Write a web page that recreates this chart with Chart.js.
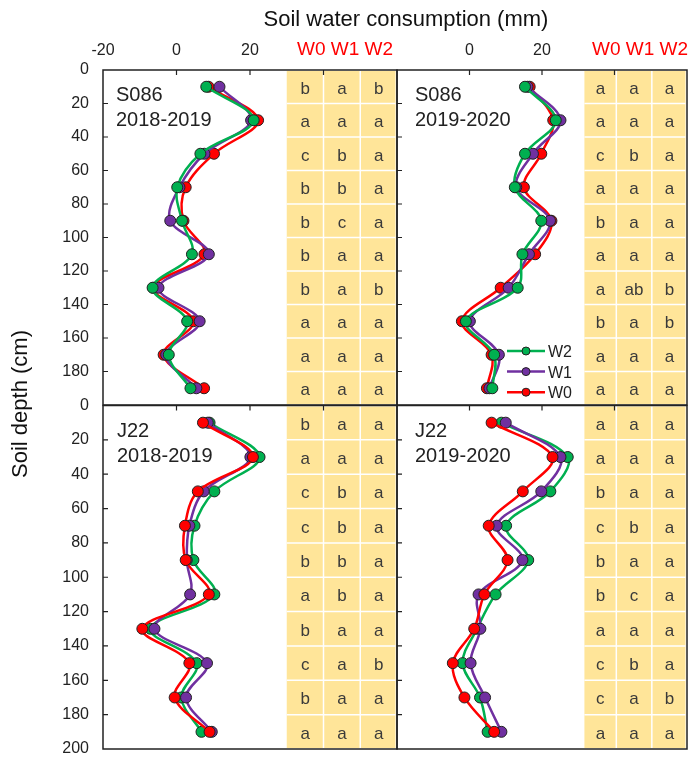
<!DOCTYPE html>
<html>
<head>
<meta charset="utf-8">
<script src="https://cdn.jsdelivr.net/npm/chart.js@4.4.1/dist/chart.umd.min.js"></script>
<style>
  body { margin: 0; background: #fff; }
  #wrap { position: relative; width: 690px; height: 757px; font-family: 'Liberation Sans', Arial, sans-serif; }
  #wrap canvas { position: absolute; left: 0; top: 0; }
  .txt { position: absolute; white-space: nowrap; color: #111; line-height: 1; }
</style>
</head>
<body>
<div id="wrap">
  <canvas id="ul" width="690" height="757"></canvas>
  <canvas id="ur" width="690" height="757"></canvas>
  <canvas id="ll" width="690" height="757"></canvas>
  <canvas id="lr" width="690" height="757"></canvas>
  <div class="txt" style="left:206px;top:7.5px;width:400px;text-align:center;font-size:22px;">Soil water consumption (mm)</div>
  <div class="txt" style="left:245px;top:39px;width:200px;text-align:center;font-size:19px;color:#ff0000;">W0 W1 W2</div>
  <div class="txt" style="left:540px;top:39px;width:200px;text-align:center;font-size:19px;color:#ff0000;">W0 W1 W2</div>
  <div class="txt" style="left:-80px;top:393px;width:200px;height:22px;text-align:center;font-size:22px;transform:rotate(-90deg);">Soil depth (cm)</div>
</div>
<script>
// depth of each sampling layer (cm)
const depths = [10, 30, 50, 70, 90, 110, 130, 150, 170, 190];

// S086 2018-2019
const s086a_W0 = [8.7, 22.2, 10.2, 2.5, 1.9, 7.6, -6.3, 4.6, -3.5, 7.5];
const s086a_W1 = [11.7, 20.3, 7.6, 0.8, -1.7, 8.8, -4.9, 6.3, -2.8, 5.4];
const s086a_W2 = [8.1, 21.0, 6.5, 0.2, 1.5, 4.2, -6.5, 2.9, -2.1, 3.8];
// S086 2019-2020
const s086b_W0 = [16.6, 23.1, 19.8, 15.0, 22.6, 18.1, 8.6, -2.1, 6.1, 4.8];
const s086b_W1 = [16.0, 25.1, 17.5, 12.9, 22.2, 16.4, 10.8, 0.1, 8.1, 5.5];
const s086b_W2 = [15.3, 23.8, 15.3, 12.5, 19.8, 14.6, 13.3, -1.0, 6.8, 6.3];
// J22 2018-2019
const j22a_W0 = [7.2, 20.8, 5.8, 2.3, 2.5, 8.8, -9.3, 3.5, -0.5, 9.0];
const j22a_W1 = [8.5, 20.1, 7.4, 3.5, 2.8, 3.7, -6.0, 8.3, 2.6, 9.6];
const j22a_W2 = [9.0, 22.6, 10.3, 4.9, 4.6, 10.3, -7.1, 5.5, 1.3, 6.8];
// J22 2019-2020
const j22b_W0 = [6.1, 22.9, 14.7, 5.3, 10.5, 4.1, 1.3, -4.6, -1.4, 6.8];
const j22b_W1 = [10.0, 25.1, 19.8, 7.5, 14.6, 2.5, 3.0, 0.3, 4.3, 8.8];
const j22b_W2 = [8.8, 27.1, 22.3, 10.1, 16.2, 7.2, 2.1, -1.9, 2.9, 5.0];

// significance letters per layer: W0 W1 W2
const s086a_letters = ['b a b', 'a a a', 'c b a', 'b b a', 'b c a', 'b a a', 'b a b', 'a a a', 'a a a', 'a a a'];
const s086b_letters = ['a a a', 'a a a', 'c b a', 'a a a', 'b a a', 'a a a', 'a ab b', 'b a b', 'a a a', 'a a a'];
const j22a_letters = ['b a a', 'a a a', 'c b a', 'c b a', 'b b a', 'a b a', 'b a a', 'c a b', 'b a a', 'a a a'];
const j22b_letters = ['a a a', 'a a a', 'b a a', 'c b a', 'b a a', 'b c a', 'a a a', 'c b a', 'c a b', 'a a a'];

// tick labels that are shown
const xTickLabelsLeft = [-20, 0, 20];
const xTickLabelsRight = [0, 20];
const yTickLabelsTop = [0, 20, 40, 60, 80, 100, 120, 140, 160, 180];
const yTickLabelsBottom = [0, 20, 40, 60, 80, 100, 120, 140, 160, 180, 200];

const colors = { W0: '#ff0000', W1: '#7030a0', W2: '#00b050' };
const FONT = "'Liberation Sans', Arial, sans-serif";

const panelPlugin = {
    id: 'panel',
    beforeDatasetsDraw(chart, args, opts) {
        const { ctx, chartArea: a, scales: { x, y } } = chart;
        const edges = opts.tableEdges.map(v => x.getPixelForValue(v));
        ctx.save();
        ctx.fillStyle = '#ffe599';
        ctx.fillRect(edges[0], a.top + 1, a.right - 1.5 - edges[0], a.bottom - a.top - 2);
        ctx.strokeStyle = '#ffffff';
        ctx.lineWidth = 1.5;
        ctx.beginPath();
        for (let i = 1; i < edges.length - 1; i++) {
            ctx.moveTo(edges[i], a.top);
            ctx.lineTo(edges[i], a.bottom);
        }
        y.ticks.forEach(t => {
            if (t.value > 0 && t.value < 200) {
                const py = y.getPixelForValue(t.value);
                ctx.moveTo(edges[0], py);
                ctx.lineTo(a.right - 1.5, py);
            }
        });
        ctx.stroke();
        ctx.fillStyle = '#3a3a3a';
        ctx.font = '17px ' + FONT;
        ctx.textAlign = 'center';
        ctx.textBaseline = 'alphabetic';
        opts.letters.forEach((row, i) => {
            const py = y.getPixelForValue(depths[i]);
            row.split(' ').forEach((s, j) => {
                ctx.fillText(s, (edges[j] + edges[j + 1]) / 2, py + 7);
            });
        });
        ctx.restore();
    },
    afterDraw(chart, args, opts) {
        const { ctx, chartArea: a, scales: { x, y } } = chart;
        ctx.save();
        // inward ticks
        ctx.strokeStyle = '#222';
        ctx.lineWidth = 1.2;
        ctx.beginPath();
        x.ticks.forEach(t => {
            if (t.value > x.min && t.value < x.max) {
                const px = x.getPixelForValue(t.value);
                ctx.moveTo(px, a.top);
                ctx.lineTo(px, a.top + 5);
            }
        });
        y.ticks.forEach(t => {
            if (t.value > y.min && t.value < y.max) {
                const py = y.getPixelForValue(t.value);
                ctx.moveTo(a.left, py);
                ctx.lineTo(a.left + 5, py);
            }
        });
        ctx.stroke();
        // frame
        ctx.lineWidth = 1.5;
        ctx.strokeRect(a.left, a.top, a.right - a.left, a.bottom - a.top);
        // panel label
        ctx.fillStyle = '#222';
        ctx.font = '20px ' + FONT;
        ctx.textAlign = 'left';
        ctx.textBaseline = 'alphabetic';
        opts.title.forEach((s, i) => {
            ctx.fillText(s, a.left + opts.titleDx, a.top + 31 + i * 25);
        });
        // legend
        if (opts.legend) {
            chart.data.datasets.forEach((ds, i) => {
                const ly = a.top + 281 + i * 20.6;
                const lx = a.left + 110;
                ctx.strokeStyle = ds.borderColor;
                ctx.lineWidth = 2.5;
                ctx.beginPath();
                ctx.moveTo(lx, ly);
                ctx.lineTo(lx + 38, ly);
                ctx.stroke();
                ctx.beginPath();
                ctx.arc(lx + 19, ly, 4, 0, Math.PI * 2);
                ctx.fillStyle = ds.backgroundColor;
                ctx.fill();
                ctx.strokeStyle = '#222';
                ctx.lineWidth = 1;
                ctx.stroke();
                ctx.fillStyle = '#222';
                ctx.font = '16px ' + FONT;
                ctx.fillText(ds.label, lx + 41, ly + 6);
            });
        }
        ctx.restore();
    }
};

function makeChart(id, p) {
    const datasets = p.order.map(k => ({
        label: k,
        data: depths.map((d, i) => ({ x: p.values[k][i], y: d })),
        borderColor: colors[k],
        backgroundColor: colors[k],
        pointBackgroundColor: colors[k],
        pointBorderColor: '#222',
        pointBorderWidth: 1,
        pointRadius: 5.5,
        borderWidth: 2.5,
        tension: 0.35,
        fill: false,
    }));
    return new Chart(document.getElementById(id), {
        type: 'line',
        data: { datasets },
        options: {
            responsive: false,
            animation: false,
            events: [],
            layout: { padding: p.pad, autoPadding: false },
            plugins: {
                legend: { display: false },
                tooltip: { enabled: false },
                panel: { tableEdges: p.tableEdges, letters: p.letters, title: p.title, titleDx: p.titleDx, legend: p.legend },
            },
            scales: {
                x: {
                    type: 'linear', position: 'top', min: -20, max: 60,
                    grid: { display: false, drawTicks: false },
                    border: { display: false },
                    ticks: {
                        stepSize: 20, display: p.xLabels.length > 0, padding: 10, maxRotation: 0, autoSkip: false,
                        color: '#222', font: { family: FONT, size: 16 },
                        callback: v => (p.xLabels.includes(v) ? v : ''),
                    },
                    afterFit: s => { s.height = p.xH; s.paddingLeft = 0; s.paddingRight = 0; },
                },
                y: {
                    type: 'linear', reverse: true, min: 0, max: 200,
                    grid: { display: false, drawTicks: false },
                    border: { display: false },
                    ticks: {
                        stepSize: 20, display: p.yLabels.length > 0, padding: 14, autoSkip: false,
                        color: '#222', font: { family: FONT, size: 16 },
                        callback: v => (p.yLabels.includes(v) ? v : ''),
                    },
                    afterFit: s => { s.width = p.yW; s.paddingTop = 0; s.paddingBottom = 0; },
                },
            },
        },
        plugins: [panelPlugin],
    });
}

const upperOrder = ['W2', 'W1', 'W0'];
const lowerOrder = ['W0', 'W1', 'W2'];

makeChart('ul', {
    values: { W0: s086a_W0, W1: s086a_W1, W2: s086a_W2 }, order: upperOrder,
    letters: s086a_letters, title: ['S086', '2018-2019'], titleDx: 13,
    xLabels: xTickLabelsLeft, yLabels: yTickLabelsTop, tableEdges: [30, 40, 50, 60],
    yW: 103, xH: 70, pad: { left: 0, top: 0, right: 293, bottom: 352 },
});
makeChart('ur', {
    values: { W0: s086b_W0, W1: s086b_W1, W2: s086b_W2 }, order: upperOrder,
    letters: s086b_letters, title: ['S086', '2019-2020'], titleDx: 18, legend: true,
    xLabels: xTickLabelsRight, yLabels: [], tableEdges: [31.7, 40.5, 50.3, 60],
    yW: 10, xH: 70, pad: { left: 387, top: 0, right: 3, bottom: 352 },
});
makeChart('ll', {
    values: { W0: j22a_W0, W1: j22a_W1, W2: j22a_W2 }, order: lowerOrder,
    letters: j22a_letters, title: ['J22', '2018-2019'], titleDx: 14,
    xLabels: [], yLabels: yTickLabelsBottom, tableEdges: [30, 40, 50, 60],
    yW: 103, xH: 10, pad: { left: 0, top: 395.5, right: 293, bottom: 8 },
});
makeChart('lr', {
    values: { W0: j22b_W0, W1: j22b_W1, W2: j22b_W2 }, order: lowerOrder,
    letters: j22b_letters, title: ['J22', '2019-2020'], titleDx: 18,
    xLabels: [], yLabels: [], tableEdges: [31.7, 40.5, 50.3, 60],
    yW: 10, xH: 10, pad: { left: 387, top: 395.5, right: 3, bottom: 8 },
});
</script>
</body>
</html>
